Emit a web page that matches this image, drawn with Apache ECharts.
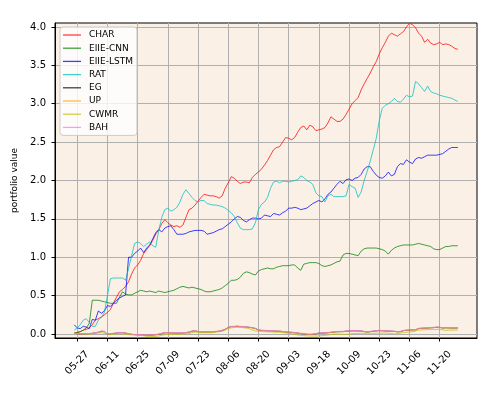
<!DOCTYPE html>
<html><head><meta charset="utf-8">
<script src="https://cdn.jsdelivr.net/npm/echarts@6/dist/echarts.min.js"></script>
<style>html,body{margin:0;padding:0;background:#fff}#c{width:499px;height:396px}</style>
</head><body><div id="c"></div>
<script>
const seriesNames = ['CHAR','EIIE-CNN','EIIE-LSTM','RAT','EG','UP','CWMR','BAH'];
const tickIndex = [1,11,21,31,41,51,61,71,81,91,101,111,121];
const tickLabels = ['05-27','06-11','06-25','07-09','07-23','08-06','08-20','09-03','09-18','10-09','10-23','11-06','11-20'];
const yTicks = [0,0.5,1,1.5,2,2.5,3,3.5,4];

const CHAR = [0.01,0.02,0.03,0.05,0.06,0.08,0.12,0.18,0.20,0.22,
0.25,0.28,0.32,0.40,0.48,0.55,0.58,0.62,0.68,0.78,
0.86,0.90,0.96,1.05,1.10,1.15,1.22,1.30,1.36,1.44,
1.49,1.45,1.42,1.40,1.41,1.39,1.42,1.52,1.62,1.64,
1.68,1.73,1.78,1.82,1.81,1.80,1.80,1.79,1.77,1.80,
1.90,1.97,2.05,2.03,1.99,1.96,1.98,1.98,1.97,2.04,
2.08,2.11,2.15,2.20,2.26,2.33,2.40,2.43,2.44,2.50,
2.56,2.55,2.53,2.56,2.63,2.69,2.71,2.66,2.72,2.70,
2.65,2.66,2.67,2.69,2.75,2.83,2.80,2.77,2.77,2.80,
2.86,2.93,3.00,3.04,3.08,3.18,3.26,3.33,3.40,3.48,
3.55,3.65,3.73,3.80,3.88,3.92,3.90,3.88,3.91,3.94,
4.00,4.05,4.03,3.99,3.92,3.88,3.80,3.84,3.79,3.77,
3.78,3.80,3.77,3.78,3.77,3.75,3.72,3.71];

const EIIE_CNN = [0.01,0.02,0.03,0.05,0.08,0.14,0.44,0.44,0.44,0.43,
0.42,0.41,0.40,0.40,0.40,0.48,0.55,0.52,0.51,0.51,
0.53,0.55,0.57,0.56,0.55,0.56,0.55,0.54,0.56,0.55,
0.54,0.55,0.56,0.57,0.59,0.61,0.62,0.61,0.60,0.61,
0.60,0.59,0.58,0.56,0.55,0.55,0.56,0.57,0.58,0.60,
0.63,0.66,0.70,0.70,0.71,0.74,0.79,0.81,0.80,0.78,
0.77,0.82,0.84,0.85,0.86,0.85,0.85,0.87,0.88,0.89,
0.89,0.89,0.90,0.90,0.86,0.83,0.91,0.92,0.93,0.93,
0.93,0.92,0.89,0.88,0.89,0.90,0.92,0.94,0.95,1.03,
1.05,1.05,1.04,1.03,1.02,1.08,1.11,1.12,1.12,1.12,
1.12,1.11,1.10,1.08,1.04,1.09,1.12,1.14,1.15,1.16,
1.16,1.16,1.16,1.17,1.18,1.17,1.16,1.15,1.14,1.11,
1.10,1.10,1.12,1.14,1.14,1.15,1.15,1.15];

const EIIE_LSTM = [0.12,0.08,0.07,0.10,0.09,0.07,0.19,0.18,0.30,0.27,
0.30,0.37,0.36,0.40,0.44,0.47,0.49,0.51,1.00,1.00,
1.05,1.08,1.12,1.06,1.12,1.16,1.24,1.32,1.36,1.33,
1.38,1.40,1.41,1.36,1.30,1.30,1.30,1.31,1.33,1.34,
1.35,1.35,1.35,1.34,1.30,1.31,1.32,1.34,1.36,1.37,
1.40,1.43,1.46,1.50,1.53,1.52,1.48,1.46,1.49,1.51,
1.51,1.50,1.51,1.55,1.54,1.53,1.57,1.56,1.55,1.58,
1.60,1.64,1.64,1.65,1.64,1.62,1.63,1.64,1.67,1.70,
1.72,1.74,1.72,1.76,1.82,1.85,1.90,1.95,1.99,1.96,
2.01,2.02,2.00,2.03,2.04,2.08,2.15,2.18,2.18,2.12,
2.07,2.04,2.03,2.06,2.11,2.06,2.08,2.18,2.22,2.21,
2.27,2.24,2.22,2.28,2.30,2.29,2.31,2.33,2.33,2.33,
2.33,2.34,2.35,2.38,2.41,2.43,2.43,2.43];

const RAT = [0.05,0.08,0.12,0.18,0.20,0.15,0.10,0.10,0.18,0.22,
0.28,0.50,0.72,0.73,0.73,0.73,0.73,0.70,0.85,1.02,
1.18,1.20,1.18,1.14,1.17,1.20,1.15,1.13,1.35,1.52,
1.62,1.64,1.60,1.62,1.65,1.72,1.82,1.88,1.83,1.78,
1.74,1.72,1.74,1.74,1.70,1.69,1.68,1.68,1.67,1.66,
1.64,1.61,1.58,1.53,1.45,1.38,1.36,1.36,1.36,1.37,
1.45,1.62,1.69,1.72,1.78,1.90,1.98,1.99,1.97,1.99,
1.99,1.98,1.99,2.00,2.01,2.06,2.04,2.00,1.98,1.95,
1.84,1.80,1.79,1.72,1.80,1.82,1.79,1.79,1.79,1.79,
1.80,1.95,1.92,1.90,1.78,1.85,2.00,2.12,2.25,2.40,
2.55,2.78,2.94,2.98,3.00,3.03,3.07,3.03,3.02,3.06,
3.11,3.09,3.10,3.29,3.26,3.21,3.16,3.23,3.16,3.14,
3.13,3.11,3.10,3.09,3.08,3.07,3.05,3.03];

const EG = [0.010,0.004,-0.002,0.001,0.003,0.006,0.008,0.015,0.022,0.035,
0.031,-0.003,0.002,0.007,0.012,0.017,0.017,0.012,0.002,-0.005,
-0.008,-0.009,-0.011,-0.013,-0.016,-0.015,-0.014,-0.009,-0.004,0.006,
0.016,0.016,0.014,0.013,0.012,0.011,0.013,0.016,0.024,0.036,
0.041,0.031,0.026,0.026,0.026,0.027,0.028,0.032,0.036,0.046,
0.061,0.086,0.096,0.097,0.101,0.096,0.094,0.092,0.086,0.081,
0.071,0.051,0.046,0.044,0.041,0.041,0.039,0.036,0.036,0.031,
0.026,0.023,0.021,0.016,0.011,0.006,0.001,-0.004,-0.006,-0.004,
0.001,0.013,0.011,0.013,0.016,0.021,0.026,0.029,0.031,0.031,
0.036,0.039,0.041,0.041,0.041,0.039,0.031,0.026,0.031,0.036,
0.041,0.044,0.042,0.040,0.038,0.036,0.034,0.028,0.031,0.044,
0.048,0.052,0.054,0.054,0.071,0.074,0.076,0.078,0.081,0.083,
0.088,0.086,0.078,0.081,0.079,0.078,0.078,0.079];

const UP = [0.010,0.004,-0.002,0.001,0.003,0.006,0.008,0.015,0.022,0.036,
0.032,-0.003,0.002,0.007,0.012,0.017,0.017,0.012,0.002,-0.005,
-0.008,-0.009,-0.011,-0.013,-0.016,-0.015,-0.014,-0.009,-0.004,0.006,
0.016,0.016,0.014,0.013,0.012,0.011,0.013,0.016,0.024,0.036,
0.041,0.031,0.026,0.026,0.026,0.027,0.028,0.032,0.036,0.046,
0.061,0.086,0.096,0.097,0.101,0.096,0.094,0.092,0.086,0.081,
0.071,0.051,0.046,0.044,0.041,0.041,0.039,0.036,0.036,0.031,
0.026,0.023,0.021,0.016,0.011,0.006,0.001,-0.004,-0.006,-0.004,
0.001,0.013,0.011,0.013,0.016,0.021,0.026,0.029,0.031,0.031,
0.036,0.039,0.041,0.041,0.041,0.039,0.031,0.026,0.031,0.036,
0.041,0.044,0.042,0.040,0.038,0.036,0.034,0.028,0.031,0.044,
0.048,0.052,0.054,0.054,0.071,0.074,0.076,0.078,0.081,0.083,
0.088,0.086,0.078,0.081,0.079,0.078,0.078,0.079];

const CWMR = [0.010,0.008,0.006,0.004,0.002,0.000,0.003,0.008,0.014,0.016,
0.010,0.003,-0.004,-0.002,0.002,0.004,0.002,-0.003,-0.007,-0.010,
-0.012,-0.015,-0.017,-0.022,-0.030,-0.035,-0.033,-0.030,-0.026,-0.018,
-0.008,-0.004,-0.004,-0.004,-0.004,-0.002,0.000,0.000,0.006,0.018,
0.026,0.022,0.018,0.017,0.017,0.017,0.018,0.024,0.030,0.035,
0.050,0.072,0.080,0.085,0.087,0.085,0.082,0.078,0.068,0.052,
0.040,0.036,0.033,0.030,0.029,0.027,0.025,0.023,0.022,0.018,
0.014,0.009,0.004,-0.004,-0.012,-0.018,-0.021,-0.024,-0.026,-0.026,
-0.026,-0.025,-0.022,-0.018,-0.013,-0.006,-0.001,0.000,-0.002,-0.003,
-0.004,-0.001,0.003,0.006,0.009,0.009,0.009,0.009,0.009,0.009,
0.010,0.011,0.012,0.013,0.010,0.005,0.001,0.004,0.012,0.018,
0.022,0.027,0.030,0.040,0.052,0.054,0.056,0.057,0.058,0.059,
0.060,0.061,0.055,0.048,0.050,0.051,0.052,0.052];

const BAH = [0.010,0.005,0.000,0.003,0.005,0.008,0.010,0.018,0.025,0.040,
0.035,0.000,0.005,0.010,0.015,0.020,0.020,0.015,0.005,-0.002,
-0.005,-0.006,-0.008,-0.010,-0.012,-0.011,-0.010,-0.005,0.000,0.010,
0.020,0.020,0.018,0.017,0.016,0.015,0.017,0.020,0.028,0.040,
0.045,0.035,0.030,0.030,0.030,0.031,0.032,0.036,0.040,0.050,
0.065,0.090,0.100,0.100,0.105,0.100,0.098,0.096,0.090,0.085,
0.075,0.055,0.050,0.048,0.045,0.045,0.043,0.040,0.040,0.035,
0.030,0.027,0.025,0.020,0.015,0.010,0.005,0.000,-0.002,0.000,
0.005,0.017,0.015,0.017,0.020,0.025,0.030,0.033,0.035,0.035,
0.040,0.043,0.045,0.045,0.045,0.043,0.035,0.030,0.035,0.040,
0.045,0.048,0.046,0.044,0.042,0.040,0.038,0.032,0.035,0.048,
0.052,0.056,0.058,0.058,0.075,0.078,0.080,0.082,0.085,0.087,
0.092,0.090,0.082,0.085,0.083,0.082,0.082,0.083];

const seriesValues = [CHAR, EIIE_CNN, EIIE_LSTM, RAT, EG, UP, CWMR, BAH];
const seriesColors = ['#ff0000','#008000','#0000ff','#00bfbf','#000000','#ffa500','#bfbf00','#ee82ee'];

const FONT = 'DejaVu Sans';
const chart = echarts.init(document.getElementById('c'), null, {renderer:'canvas'});
chart.setOption({
  animation: false,
  backgroundColor: '#ffffff',
  textStyle: {fontFamily: FONT},
  grid: {left:55, right:22, top:23, bottom:58, show:true, backgroundColor:'#faf0e6', borderColor:'#000', borderWidth:1, containLabel:false},
  legend: {
    data: seriesNames.map(function(n){return {name:n, icon:'rect'};}),
    orient:'vertical', left:60, top:27,
    padding:[3,4,3,3], itemGap:3.2, itemWidth:18, itemHeight:1.3,
    backgroundColor:'rgba(255,255,255,0.8)', borderColor:'#cccccc', borderWidth:1, borderRadius:3,
    textStyle:{fontFamily:FONT, fontSize:9, lineHeight:10, height:10, color:'#000', padding:[0,0,0,3]}
  },
  xAxis: {
    type:'value', min:-6.35, max:133.35,
    axisLine:{show:true, onZero:false, lineStyle:{color:'#000', width:1}},
    axisTick:{show:true, customValues:tickIndex, length:3.5, lineStyle:{color:'#000'}},
    axisLabel:{customValues:tickIndex, formatter:function(v){const k=tickIndex.indexOf(Math.round(v));return k>=0?tickLabels[k]:'';},
      rotate:45, align:'center', verticalAlign:'middle', margin:25, fontSize:10, color:'#000', fontFamily:FONT},
    splitLine:{show:true, lineStyle:{color:'#b0b0b0', width:1}}
  },
  yAxis: {
    type:'value', min:-0.052, max:4.052,
    name:'portfolio value', nameLocation:'middle', nameGap:28,
    nameTextStyle:{fontSize:9, color:'#000', fontFamily:FONT},
    axisLine:{show:true, onZero:false, lineStyle:{color:'#000', width:1}},
    axisTick:{show:true, customValues:yTicks, length:3.5, lineStyle:{color:'#000'}},
    axisLabel:{customValues:yTicks, formatter:function(v){return v.toFixed(1);}, margin:9, fontSize:10, color:'#000', fontFamily:FONT},
    splitLine:{show:true, lineStyle:{color:'#b0b0b0', width:1}}
  },
  series: seriesNames.map(function(n, s){
    return {
      name:n, type:'line', symbol:'none', showSymbol:false,
      data: seriesValues[s].map(function(v,i){return [i,v];}),
      lineStyle:{color:seriesColors[s], width:1, opacity:0.75},
      itemStyle:{color:seriesColors[s], opacity:0.75},
      emphasis:{disabled:true}
    };
  })
});
</script></body></html>
